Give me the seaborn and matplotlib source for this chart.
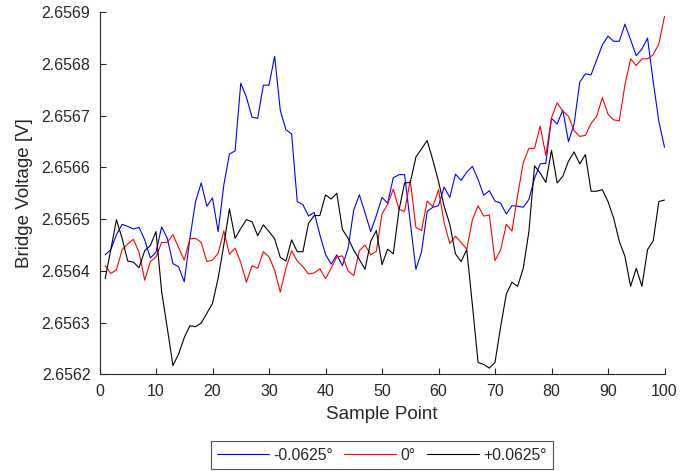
import numpy as np
import pandas as pd
import matplotlib
matplotlib.use("Agg")
import matplotlib.pyplot as plt
from matplotlib.ticker import FormatStrFormatter
import seaborn as sns

# Bridge voltage readings for three tilt angles, 100 samples each
sample_points = list(range(1, 101))

volt_minus = [
    2.656431, 2.656441, 2.656470, 2.656490, 2.656486, 2.656481, 2.656484, 2.656460, 2.656425, 2.656436,
    2.656485, 2.656463, 2.656414, 2.656408, 2.656379, 2.656463, 2.656534, 2.656570, 2.656525, 2.656541,
    2.656476, 2.656566, 2.656626, 2.656632, 2.656763, 2.656736, 2.656697, 2.656695, 2.656759, 2.656759,
    2.656815, 2.656710, 2.656673, 2.656665, 2.656534, 2.656528, 2.656506, 2.656513, 2.656470, 2.656432,
    2.656413, 2.656431, 2.656410, 2.656444, 2.656518, 2.656547, 2.656512, 2.656476, 2.656507, 2.656542,
    2.656531, 2.656580, 2.656586, 2.656586, 2.656494, 2.656403, 2.656437, 2.656515, 2.656523, 2.656526,
    2.656562, 2.656542, 2.656587, 2.656575, 2.656591, 2.656602, 2.656577, 2.656546, 2.656555, 2.656535,
    2.656531, 2.656510, 2.656526, 2.656525, 2.656523, 2.656538, 2.656579, 2.656607, 2.656608, 2.656695,
    2.656684, 2.656711, 2.656650, 2.656684, 2.656765, 2.656781, 2.656779, 2.656808, 2.656837, 2.656854,
    2.656844, 2.656844, 2.656877, 2.656847, 2.656816, 2.656829, 2.656850, 2.656766, 2.656689, 2.656639,
]

volt_zero = [
    2.656410, 2.656395, 2.656402, 2.656441, 2.656452, 2.656461, 2.656436, 2.656382, 2.656418, 2.656427,
    2.656455, 2.656455, 2.656470, 2.656445, 2.656421, 2.656462, 2.656463, 2.656455, 2.656418, 2.656421,
    2.656434, 2.656477, 2.656432, 2.656444, 2.656416, 2.656378, 2.656410, 2.656405, 2.656437, 2.656427,
    2.656401, 2.656359, 2.656405, 2.656439, 2.656419, 2.656408, 2.656394, 2.656396, 2.656404, 2.656385,
    2.656405, 2.656427, 2.656429, 2.656400, 2.656391, 2.656439, 2.656450, 2.656431, 2.656438, 2.656510,
    2.656529, 2.656558, 2.656519, 2.656515, 2.656575, 2.656484, 2.656478, 2.656535, 2.656524, 2.656557,
    2.656493, 2.656453, 2.656467, 2.656455, 2.656442, 2.656499, 2.656526, 2.656506, 2.656508, 2.656420,
    2.656441, 2.656490, 2.656477, 2.656546, 2.656609, 2.656637, 2.656637, 2.656680, 2.656623, 2.656696,
    2.656725, 2.656709, 2.656699, 2.656671, 2.656660, 2.656662, 2.656685, 2.656699, 2.656735, 2.656703,
    2.656692, 2.656690, 2.656760, 2.656810, 2.656797, 2.656810, 2.656810, 2.656818, 2.656839, 2.656892,
]

volt_plus = [
    2.656385, 2.656441, 2.656499, 2.656463, 2.656419, 2.656417, 2.656406, 2.656439, 2.656449, 2.656476,
    2.656360, 2.656289, 2.656217, 2.656239, 2.656271, 2.656294, 2.656292, 2.656299, 2.656318, 2.656337,
    2.656386, 2.656450, 2.656520, 2.656463, 2.656482, 2.656499, 2.656495, 2.656468, 2.656489, 2.656476,
    2.656462, 2.656426, 2.656419, 2.656460, 2.656437, 2.656437, 2.656492, 2.656507, 2.656507, 2.656547,
    2.656539, 2.656550, 2.656480, 2.656463, 2.656440, 2.656422, 2.656403, 2.656457, 2.656478, 2.656412,
    2.656442, 2.656433, 2.656517, 2.656570, 2.656571, 2.656620, 2.656636, 2.656652, 2.656614, 2.656573,
    2.656525, 2.656490, 2.656433, 2.656418, 2.656441, 2.656334, 2.656223, 2.656219, 2.656212, 2.656223,
    2.656292, 2.656355, 2.656378, 2.656370, 2.656405, 2.656476, 2.656603, 2.656589, 2.656571, 2.656633,
    2.656570, 2.656583, 2.656612, 2.656630, 2.656607, 2.656625, 2.656554, 2.656554, 2.656557, 2.656534,
    2.656502, 2.656457, 2.656428, 2.656370, 2.656405, 2.656370, 2.656441, 2.656458, 2.656534, 2.656537,
]

series_labels = ["-0.0625°", "0°", "+0.0625°"]
series_colors = ["#0000ff", "#ff0000", "#000000"]
y_ticks = [2.6562, 2.6563, 2.6564, 2.6565, 2.6566, 2.6567, 2.6568, 2.6569]
x_ticks = list(range(0, 101, 10))

df = pd.DataFrame({
    "Sample Point": sample_points * 3,
    "Voltage": volt_minus + volt_zero + volt_plus,
    "Angle": [series_labels[0]] * 100 + [series_labels[1]] * 100 + [series_labels[2]] * 100,
})

sns.set_theme(style="ticks")
plt.rcParams["font.family"] = ["Liberation Sans", "DejaVu Sans"]
axis_gray = "#262626"

fig = plt.figure(figsize=(6.8, 4.71), dpi=100)
ax = fig.add_axes([99.5 / 680, 1 - 374.3 / 471, 565 / 680, 362 / 471])

sns.lineplot(data=df, x="Sample Point", y="Voltage", hue="Angle",
             hue_order=series_labels, palette=series_colors,
             linewidth=0.8, ax=ax, legend=False)

ax.set_xlim(0, 100)
ax.set_ylim(2.6562, 2.6569)
ax.set_xticks(x_ticks)
ax.set_yticks(y_ticks)
ax.yaxis.set_major_formatter(FormatStrFormatter("%.4f"))

for side in ("top", "right"):
    ax.spines[side].set_visible(False)
for side in ("left", "bottom"):
    ax.spines[side].set_color(axis_gray)
    ax.spines[side].set_linewidth(0.8)

ax.tick_params(axis="both", direction="in", length=4, width=0.8,
               color=axis_gray, labelcolor=axis_gray, labelsize=11.5)
ax.tick_params(axis="y", pad=6.5)
ax.tick_params(axis="x", pad=7)

ax.set_xlabel("Sample Point", fontsize=13.5, color=axis_gray, labelpad=5)
ax.set_ylabel("Bridge Voltage [V]", fontsize=13.5, color=axis_gray, labelpad=6)

handles = [plt.Line2D([], [], color=c, linewidth=0.8) for c in series_colors]
leg = fig.legend(handles, series_labels, loc="lower center",
                 bbox_to_anchor=(382 / 680, 2 / 471), ncol=3,
                 fontsize=11.3, frameon=True, fancybox=False,
                 handlelength=3.3, handletextpad=0.3, columnspacing=0.7,
                 borderpad=0.4, borderaxespad=0)
leg.get_frame().set_edgecolor(axis_gray)
leg.get_frame().set_linewidth(0.8)
for t in leg.get_texts():
    t.set_color(axis_gray)

fig.savefig("out.png", dpi=100)
